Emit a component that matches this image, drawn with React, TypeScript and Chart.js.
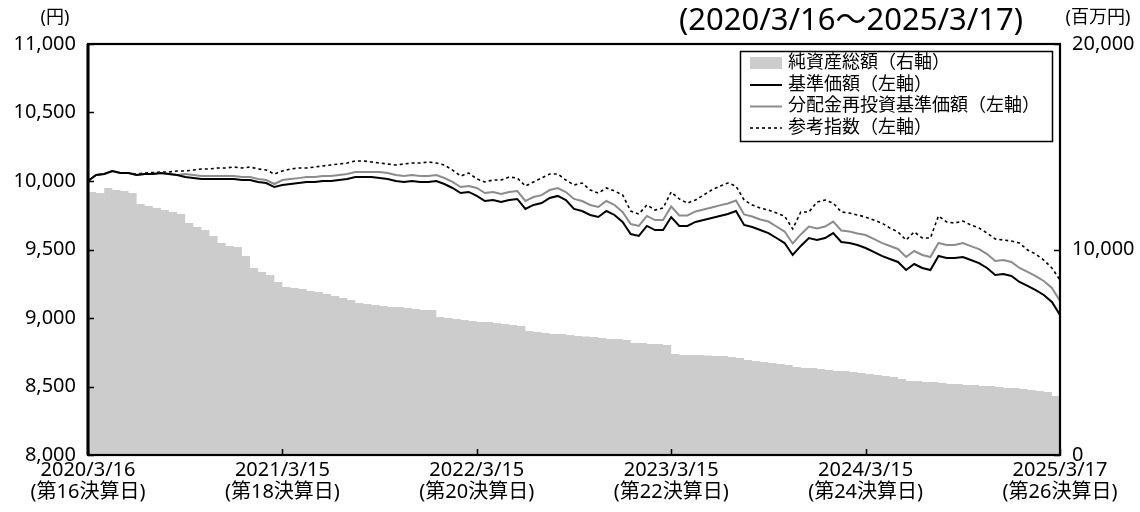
import React, { useEffect, useRef } from 'react';
import { Chart, registerables } from 'chart.js';

Chart.register(...registerables);

const FONT = '"Noto Sans", "Noto Sans CJK JP", sans-serif';

// x-axis tick labels (index positions 0, 24, 48, 72, 96, 120)
const xTickDates = ['2020/3/16', '2021/3/15', '2022/3/15', '2023/3/15', '2024/3/15', '2025/3/17'];
const xTickTerms = ['(第16決算日)', '(第18決算日)', '(第20決算日)', '(第22決算日)', '(第24決算日)', '(第26決算日)'];

const seriesLabels = ['純資産総額（右軸）', '基準価額（左軸）', '分配金再投資基準価額（左軸）', '参考指数（左軸）'];

// 基準価額 (yen), roughly semi-monthly samples
const navValues = [
  10000, 10044, 10051, 10073, 10058, 10058, 10044, 10051, 10051, 10058,
  10051, 10044, 10029, 10022, 10015, 10015, 10015, 10015, 10015, 10007,
  10007, 9993, 9985, 9956, 9971, 9978, 9985, 9993, 9993, 10000,
  10000, 10007, 10015, 10029, 10029, 10029, 10022, 10015, 10000, 9993,
  10000, 9993, 9993, 10000, 9978, 9949, 9912, 9920, 9891, 9854,
  9861, 9847, 9861, 9869, 9796, 9825, 9839, 9876, 9891, 9861,
  9796, 9781, 9752, 9737, 9781, 9752, 9701, 9613, 9599, 9672,
  9642, 9642, 9737, 9672, 9672, 9701, 9715, 9730, 9745, 9759,
  9781, 9679, 9664, 9642, 9620, 9584, 9547, 9460, 9526, 9584,
  9569, 9584, 9620, 9555, 9547, 9533, 9511, 9482, 9453, 9431,
  9409, 9350, 9394, 9365, 9350, 9453, 9438, 9438, 9445, 9423,
  9401, 9365, 9314, 9321, 9307, 9263, 9234, 9204, 9168, 9117,
  9022,
];

// 分配金再投資基準価額 (yen)
const reinvestValues = [
  10000, 10044, 10051, 10073, 10058, 10058, 10044, 10051, 10051, 10058,
  10051, 10044, 10051, 10044, 10037, 10037, 10037, 10037, 10037, 10029,
  10029, 10015, 10007, 9978, 10007, 10014, 10021, 10029, 10029, 10036,
  10036, 10043, 10051, 10065, 10065, 10065, 10066, 10059, 10044, 10037,
  10044, 10037, 10037, 10044, 10022, 9993, 9956, 9964, 9949, 9912,
  9919, 9905, 9919, 9927, 9854, 9883, 9897, 9934, 9949, 9919,
  9869, 9854, 9825, 9810, 9854, 9825, 9774, 9686, 9672, 9745,
  9715, 9715, 9814, 9749, 9749, 9778, 9792, 9807, 9822, 9836,
  9858, 9756, 9741, 9719, 9704, 9668, 9631, 9544, 9610, 9668,
  9653, 9668, 9704, 9639, 9631, 9617, 9606, 9577, 9548, 9526,
  9504, 9445, 9489, 9460, 9445, 9548, 9533, 9533, 9547, 9525,
  9503, 9467, 9416, 9423, 9409, 9365, 9336, 9306, 9270, 9219,
  9124,
];

// 参考指数 (yen)
const benchmarkValues = [
  10000, 10044, 10051, 10073, 10058, 10058, 10051, 10058, 10062, 10066,
  10066, 10073, 10073, 10080, 10088, 10088, 10095, 10095, 10102, 10095,
  10102, 10088, 10080, 10051, 10073, 10088, 10095, 10095, 10102, 10110,
  10117, 10124, 10131, 10146, 10146, 10139, 10131, 10124, 10117, 10124,
  10131, 10131, 10139, 10131, 10117, 10080, 10036, 10058, 10015, 9993,
  10007, 10007, 10029, 10022, 9963, 9993, 10022, 10051, 10051, 10007,
  9971, 9985, 9934, 9912, 9949, 9927, 9898, 9781, 9759, 9825,
  9788, 9803, 9920, 9869, 9839, 9861, 9898, 9934, 9963, 9985,
  9963, 9861, 9825, 9803, 9788, 9766, 9744, 9650, 9774, 9774,
  9847, 9861, 9839, 9774, 9766, 9752, 9737, 9715, 9693, 9657,
  9628, 9569, 9628, 9584, 9584, 9745, 9701, 9693, 9708, 9679,
  9657, 9620, 9577, 9569, 9562, 9547, 9496, 9467, 9423, 9365,
  9277,
];

// 純資産総額 (百万円)
const netAssets = [
  12798, 12749, 12992, 12895, 12846, 12749, 12214, 12117, 12019, 11922,
  11824, 11727, 11289, 11093, 10949, 10657, 10316, 10170, 10121, 9683,
  9099, 8905, 8759, 8418, 8175, 8126, 8078, 7980, 7932, 7834,
  7737, 7640, 7542, 7396, 7348, 7299, 7250, 7202, 7202, 7153,
  7104, 7056, 7056, 6715, 6666, 6618, 6569, 6520, 6472, 6472,
  6423, 6374, 6326, 6277, 6034, 5985, 5937, 5888, 5888, 5839,
  5791, 5766, 5742, 5693, 5645, 5645, 5596, 5450, 5450, 5401,
  5401, 5353, 4915, 4866, 4866, 4866, 4842, 4817, 4817, 4769,
  4720, 4623, 4574, 4526, 4477, 4428, 4379, 4282, 4233, 4233,
  4185, 4136, 4087, 4087, 4039, 3990, 3941, 3893, 3844, 3795,
  3698, 3601, 3601, 3552, 3552, 3504, 3455, 3455, 3406, 3406,
  3358, 3358, 3309, 3260, 3260, 3212, 3163, 3114, 3066, 2871,
  2823,
];

const xTickIndex = [0, 24, 48, 72, 96, 120];

const toXY = (arr: number[]) => arr.map((y, i) => ({ x: i, y }));

const decorPlugin = {
  id: 'decor',
  afterDatasetsDraw(chart: any) {
    const { ctx, chartArea, scales } = chart;
    const { left, right, top, bottom } = chartArea;
    ctx.save();
    ctx.strokeStyle = '#000';
    ctx.lineWidth = 1.5;
    const tl = 6;
    scales.y.ticks.forEach((t: any) => {
      const py = Math.round(scales.y.getPixelForValue(t.value)) + 0.5;
      ctx.beginPath();
      ctx.moveTo(left, py);
      ctx.lineTo(left + tl, py);
      ctx.stroke();
    });
    scales.y1.ticks.forEach((t: any) => {
      const py = Math.round(scales.y1.getPixelForValue(t.value)) + 0.5;
      ctx.beginPath();
      ctx.moveTo(right, py);
      ctx.lineTo(right - tl, py);
      ctx.stroke();
    });
    scales.x.ticks.forEach((t: any) => {
      const px = Math.round(scales.x.getPixelForValue(t.value)) + 0.5;
      ctx.beginPath();
      ctx.moveTo(px, bottom);
      ctx.lineTo(px, bottom - tl);
      ctx.stroke();
    });
    // frame
    ctx.lineWidth = 2.2;
    ctx.strokeRect(left, top, right - left, bottom - top);
    ctx.lineWidth = 3;
    ctx.beginPath();
    ctx.moveTo(left, top);
    ctx.lineTo(left, bottom);
    ctx.stroke();

    // legend
    const lx = 740.5, ly = 51.5, lw = 312, lh = 90;
    ctx.fillStyle = '#fff';
    ctx.fillRect(lx, ly, lw, lh);
    ctx.lineWidth = 1.5;
    ctx.strokeStyle = '#000';
    ctx.strokeRect(lx, ly, lw, lh);
    const rows = [63, 84.5, 106, 127.5];
    const ds = chart.data.datasets;
    ctx.font = `18px ${FONT}`;
    ctx.textBaseline = 'middle';
    ctx.textAlign = 'left';
    rows.forEach((ry, i) => {
      const d = ds[i];
      if (i === 0) {
        ctx.fillStyle = d.backgroundColor;
        ctx.fillRect(750, ry - 6, 32, 12);
      } else {
        ctx.save();
        ctx.strokeStyle = d.borderColor;
        ctx.lineWidth = d.borderWidth;
        ctx.setLineDash(d.borderDash || []);
        ctx.beginPath();
        ctx.moveTo(750, ry + 0.5);
        ctx.lineTo(782, ry + 0.5);
        ctx.stroke();
        ctx.restore();
      }
      ctx.fillStyle = '#000';
      ctx.fillText(d.label, 788, ry);
    });

    // titles and units
    ctx.textAlign = 'center';
    ctx.textBaseline = 'middle';
    ctx.font = `31px ${FONT}`;
    ctx.fillText('(2020/3/16～2025/3/17)', 851, 21);
    ctx.font = `18px ${FONT}`;
    ctx.fillText('(円)', 55, 18);
    ctx.fillText('(百万円)', 1098, 18);
    ctx.restore();
  },
};

export default function App() {
  const canvasRef = useRef<HTMLCanvasElement | null>(null);

  useEffect(() => {
    if (!canvasRef.current) return;
    const chart = new Chart(canvasRef.current, {
      type: 'line',
      data: {
        datasets: [
          {
            label: seriesLabels[0],
            data: toXY(netAssets),
            yAxisID: 'y1',
            stepped: true,
            fill: 'origin',
            backgroundColor: '#cccccc',
            borderColor: '#cccccc',
            borderWidth: 0,
            pointRadius: 0,
            order: 4,
          },
          {
            label: seriesLabels[1],
            data: toXY(navValues),
            yAxisID: 'y',
            borderColor: '#000000',
            borderWidth: 2,
            pointRadius: 0,
            fill: false,
            order: 1,
          },
          {
            label: seriesLabels[2],
            data: toXY(reinvestValues),
            yAxisID: 'y',
            borderColor: '#8c8c8c',
            borderWidth: 2,
            pointRadius: 0,
            fill: false,
            order: 2,
          },
          {
            label: seriesLabels[3],
            data: toXY(benchmarkValues),
            yAxisID: 'y',
            borderColor: '#000000',
            borderWidth: 1.6,
            borderDash: [3, 3],
            pointRadius: 0,
            fill: false,
            order: 3,
          },
        ] as any,
      },
      options: {
        animation: false,
        responsive: false,
        maintainAspectRatio: false,
        layout: { padding: { top: 44, left: 0, right: 0, bottom: 0 } },
        plugins: {
          legend: { display: false },
          tooltip: { enabled: false },
        },
        scales: {
          x: {
            type: 'linear',
            min: 0,
            max: 120,
            afterBuildTicks: (s: any) => {
              s.ticks = xTickIndex.map((v) => ({ value: v }));
            },
            afterFit: (s: any) => {
              s.height = 57;
            },
            ticks: {
              autoSkip: false,
              maxRotation: 0,
              padding: 4,
              color: '#000',
              font: { family: FONT, size: 20, lineHeight: 1.12 },
              callback: (v: any) => {
                const k = xTickIndex.indexOf(Number(v));
                return k >= 0 ? [xTickDates[k], xTickTerms[k]] : '';
              },
            },
            grid: { display: false, drawTicks: false },
            border: { display: false },
          },
          y: {
            position: 'left',
            min: 8000,
            max: 11000,
            afterFit: (s: any) => {
              s.width = 88;
            },
            ticks: {
              stepSize: 500,
              padding: 12,
              color: '#000',
              font: { family: FONT, size: 20 },
              callback: (v: any) => Number(v).toLocaleString('en-US'),
            },
            grid: { display: false, drawTicks: false },
            border: { display: false },
          },
          y1: {
            position: 'right',
            min: 0,
            max: 20000,
            afterFit: (s: any) => {
              s.width = 80;
            },
            ticks: {
              stepSize: 10000,
              padding: 12,
              color: '#000',
              font: { family: FONT, size: 20 },
              callback: (v: any) => Number(v).toLocaleString('en-US'),
            },
            grid: { display: false, drawTicks: false },
            border: { display: false },
          },
        },
      } as any,
      plugins: [decorPlugin],
    });
    return () => chart.destroy();
  }, []);

  return (
    <div style={{ position: 'absolute', left: 0, top: 0, width: 1140, height: 512, background: '#fff' }}>
      <canvas ref={canvasRef} width={1140} height={512} style={{ display: 'block' }} />
    </div>
  );
}
